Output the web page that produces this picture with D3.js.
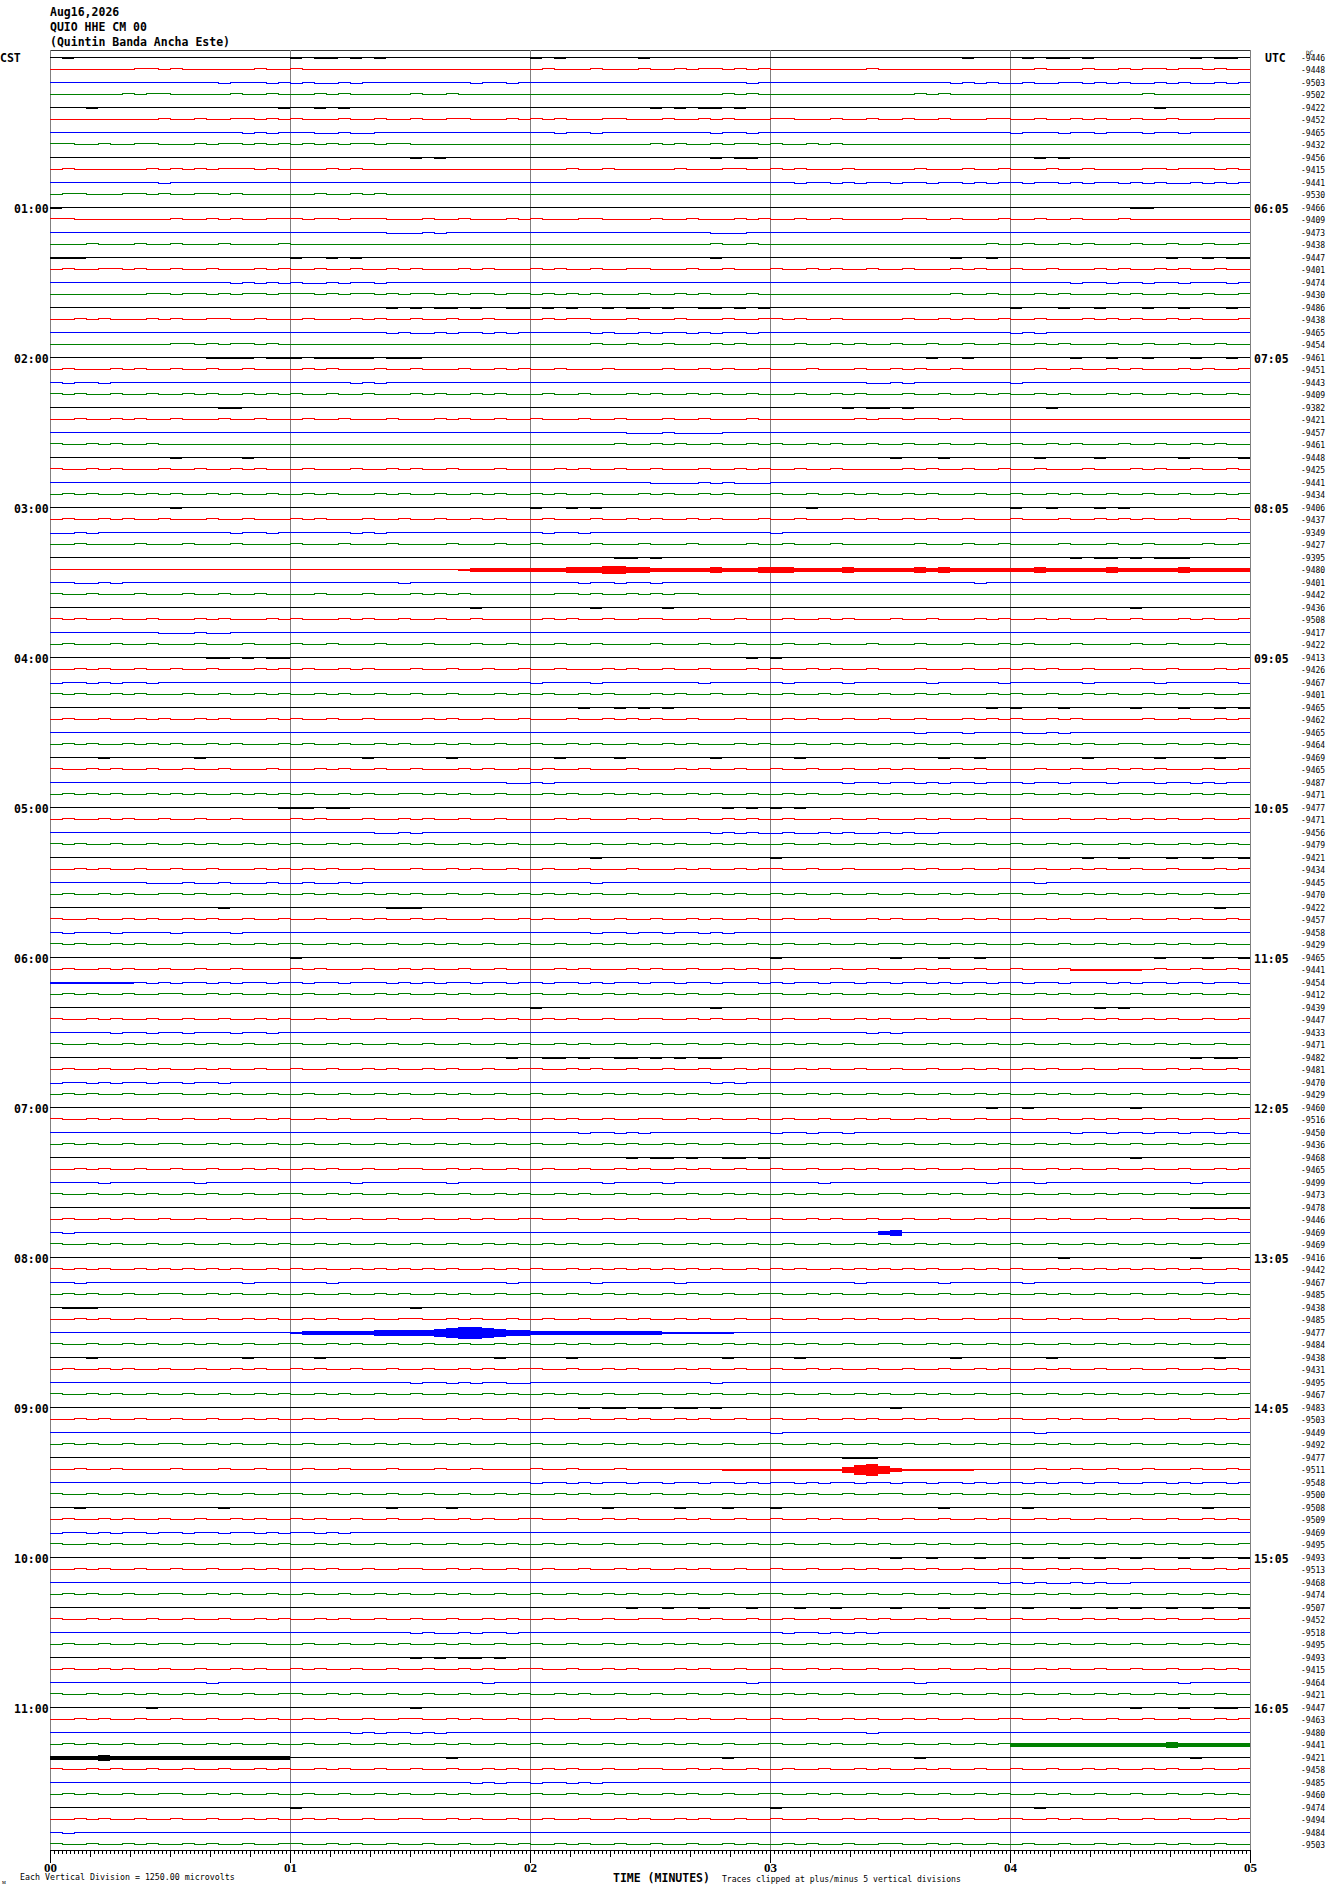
<!DOCTYPE html>
<html>
<head>
<meta charset="utf-8">
<script src="https://cdn.jsdelivr.net/npm/d3@7"></script>
<style>
  body { margin: 0; background: #fff; }
  svg { display: block; }
  text { font-family: "DejaVu Sans Mono", monospace; fill: #000; }
</style>
</head>
<body>
<div id="heli"></div>
<script>

var headerLines = ["Aug16,2026", "QUIO HHE CM 00", "(Quintin Banda Ancha Este)"];
var rowColors = ["#000000", "#ff0000", "#0000ff", "#008000"];
var leftHours = ["CST", "01:00", "02:00", "03:00", "04:00", "05:00", "06:00", "07:00", "08:00", "09:00", "10:00", "11:00"];
var rightHours = ["UTC", "06:05", "07:05", "08:05", "09:05", "10:05", "11:05", "12:05", "13:05", "14:05", "15:05", "16:05"];
var minuteLabels = ["00", "01", "02", "03", "04", "05"];

// DC offsets printed at the right of each line
var offsets = [
  -9446, -9448, -9503, -9502, -9422, -9452, -9465, -9432, -9456, -9415, -9441, -9530,
  -9466, -9409, -9473, -9438, -9447, -9401, -9474, -9430, -9486, -9438, -9465, -9454,
  -9461, -9451, -9443, -9409, -9382, -9421, -9457, -9461, -9448, -9425, -9441, -9434,
  -9406, -9437, -9349, -9427, -9395, -9480, -9401, -9442, -9436, -9508, -9417, -9422,
  -9413, -9426, -9467, -9401, -9465, -9462, -9465, -9464, -9469, -9465, -9487, -9471,
  -9477, -9471, -9456, -9479, -9421, -9434, -9445, -9470, -9422, -9457, -9458, -9429,
  -9465, -9441, -9454, -9412, -9439, -9447, -9433, -9471, -9482, -9481, -9470, -9429,
  -9460, -9516, -9450, -9436, -9468, -9465, -9499, -9473, -9478, -9446, -9469, -9469,
  -9416, -9442, -9467, -9485, -9438, -9485, -9477, -9484, -9438, -9431, -9495, -9467,
  -9483, -9503, -9449, -9492, -9477, -9511, -9548, -9500, -9508, -9509, -9469, -9495,
  -9493, -9513, -9468, -9474, -9507, -9452, -9518, -9495, -9493, -9415, -9464, -9421,
  -9447, -9463, -9480, -9441, -9421, -9458, -9485, -9460, -9474, -9494, -9484, -9503
];

// one character per 3 s bin: . flat, u step up, d step down, 1-6 noise half-amplitude (px)
var traces = [
  ".1........ .......... 1.11.1.1.. .......... 1.1......1 .......... .......... ......1... .1.11.1... .....1.11.",
  ".......uu. u......u.. u......... .......... .u...u...u ..u.uu.u.u ........u. .......... ..u...u..u .uu.uu.u..",
  ".......... ....d...d. d.dd.d.... .....d..d. .......... ........d. .......... .....d.d.d d.dd..d.d. dd.d.dd.d.",
  "......u.uu .....u..u. ..u.u..... u..u...... .......... ......u.u. .......... ..u.u..... .......... .u........",
  "...1...... .........1 ..1.1..... .......... .......... 1.1.11.1.. .......... .......... .......... ..1.......",
  ".........u ..u..uu.u. u...u..u.. u..uu...u. u.u...uu.. .u..u.u... uu...u..u. .u..u...uu ..u..u.u.. u..u...uuu",
  ".......... ......d.d. ..dd.dd... .......... ..d..d.... .....d..d. .......... .......... d...d..d.. .d..d.....",
  "uu..u..uu. ..u.uu.u.u .u.u.uu.uu .......... .......... u.u..u.uu. u..u.u.... .......... .......... ..........",
  ".......... .......... .......... 1.1....... .......... .....1.11. .......... .......... ..1.1..... ..........",
  ".u......u. u.u.uuu.u. ...u.u.... .......... ...u..u... ..u...uu.. u.u...u... ..u...u..u ...u..u... .uu.uuu.u.",
  ".........d .......... .......... .......... .......... .......... ..d..d.d.. d..d..d.d. .d..d.d..d .d.dd.d.d.",
  ".uu...uu.u ..uu.u.... ..u..u.u.. .......... .......... .......... .......... .......... .......... ..........",
  "1......... .......... .......... .......... .......... .......... .......... .......... .......... 11........",
  "uu........ u..u.u..uu u.uu.uuu.. .u..u...u. u...uu.... u..u...u.u ..u..u.... .uu..u...u ..u..u...u ..........",
  ".......... .......... ........dd d.d....... .......... .....ddd.. .......... .......... .......... ..........",
  "...u...u.. u...u....u .......... .......... .......... .....u..u. .......... ........u. .u..u.u... u..u..u..u",
  "111....... .......... 1..1.1.... .......... .......... .....1.... .......... .....1..1. .......... ...1..1.11",
  ".u..uu.u.. u..u...u.u ..u..u..u. u...u.u... u.u..u..uu ...u..u... u..u.u..u. .u...u.u.. u..u...u.u ..u.u..u..",
  ".......... .....d.d.d .dd.d..d.. .......... .......... .......... .......... .......... .....d..d. .d..d...d.",
  "........uu .uu.u.uu.u uu.u.uu.u. uu.u.uu.uu .u.u.u...u ..u.u...u. .......... .....u..u. ..u.u...u. u..u..u..u",
  ".......... .......... ........1. 1.11.1..11 .1.1..1.11 .1..11.1.1 .......... .......... 1...1..1.. .1..1...1.",
  "..u.u...u. u..uu..u.. .u...u.u.. u..u..u... .u.uu...u. ..u...u..u u.u..u.... .u..u.u..u ..u...u.u. u..u.u...u",
  ".......... .......... ........d. dd.d..d.d. .....d.dd. d..d.d..d. .......... .......... d.d....... ..........",
  ".......... uu.u.uu.u. .......... .......... .....u..u. .u...u.u.. ..u..u.u.. u..u..u..u ..u.u...u. .u..u..u..",
  ".......... ...1111.11 1.11111.11 1......... .......... .......... .......... ...1..1... .....1..1. .1...1..1.",
  ".u...u.u.. u..u..u... .u.u...u.. u...u..u.u ..u...u... .u..u.u..u ...u...u.. u.u..u.... ..u..u..u. u...u.u..u",
  ".d..d..... .......... .....d.d.. .......... .......... .......... ........dd .d........ d......... ..........",
  "u.u..u..u. .u.u..u.u. u..u..u... u.u..u.u.. .u..u...u. u..u.u..u. ..u..u.u.. .u..u..u.u ..u.u...u. u..u.u..u.",
  ".......... ....11.... .......... .......... .......... .......... ......1.11 .1........ ...1...... ..........",
  "..u..u.u.. u...u..u.. .u..u...u. ..u.u..u.. u...u..u.. .u..u...u. .......u.u u.uu.u.... .......... ..........",
  ".......... .......... .......... .......... ........dd d.dddd.... .......... .......... .......... ..........",
  "u..u.u..u. .......... .......... .......... .......u.. u.u..u..u. u..u.u..u. .u..u..u.. u..u.u...u ..u..u.u..",
  ".......... 1.....1... .......... .......... .......... .......... .......... 1...1..... ..1....1.. ....1....1",
  "u..u.u...u ..u..u.u.. .u...u..u. u..u...u.. ..u.u..u.. u...u..u.u ..u..u.... .u.u..u..u ..u...u... u.u..u..u.",
  ".......... .......... .......... .......... .......... dddd.d.ddd .......... .......... .......... ..........",
  ".u.u..u.u. u..u.u..u. .u.u...u.u ..u..u.u.. u.u..u...u .u..u.u... u..u..u.u. .u.u...u.. u..u.u..u. .u..u..u.u",
  ".......... 1......... .......... .......... 1..1.1.... .......... ...1...... .......... 1..1...1.1 ..........",
  ".u..u.u..u ...u..u... u.u...u..u ..u..u.u.. .u...u..u. u..u.u...u ..u...u.u. .u.u..u... u...u..u.u .u..u...u.",
  "dd.d...... .....d..d. .....d.d.. .......... .d..d..... .......... d......... .......... .......... ..........",
  "..u....u.. .u...u.... u...u...u. ...u...u.. u....u...u ...u....u. .u...u.... ..u...u..u ....u...u. .u....u..u",
  ".......... .......... .......... .......... .......11. 1......... .......... .......... .....1.11. 1.111.....",
  ".......... .......... .......... ....122222 2223334433 2222232223 3322223222 2232322222 2232222232 2222322222",
  "..dd.d.... .......... .........d .......... ....d..d.. d......... .......... .......d.. .......... ..........",
  "u..u...u.. .u..u..u.. ..u...u... u.u.u..... ..uu.u..u. u.uu...... .......... .......... .......... ..........",
  ".......... .......... .......... .....1.... .....1.... .1........ .......... .......... .......... 1.........",
  "u.u..u..u. ..u.u...u. u...u.u..u ..u..u.... .u.u..u..u u...u..u.. .u..u.u... u..u...u.u ..u.u..u.. u...u.u..u",
  ".........d dd.dd..... .......... .......... .......... .......... .......... .......... .......... ..........",
  ".u...u..u. ..u...u... u..u...u.. .u...u..u. ..u..u.... u...u..u.. .u..u...u. ..u...u..u .u...u.... u..u...u..",
  ".......... ...11.1.11 .......... .......... .......... ........1. 1......... .......... .......... ..........",
  "..u.u..u.. u..u...u.u .u..u.u... u..u..u..u ..u...u.u. .u..u...u. u..u.u..u. ..u...u..u .u.u..u... u..u...u.u",
  "d..d.d..d. .......... .......... .......... d....d.... ....d..... .d....d... ...d.....d ......d... ..d......d",
  "u.u..u.u.. .u..u..u.u ..u.u..u.. u..u...u.u .u..u.u... u.u..u..u. .u..u.u..u ..u.u...u. u..u..u.u. .u.u..u..u",
  ".......... .......... .......... .......... ....1..1.1 .1........ .......... ........1. 1...1..... 1...1..1.1",
  ".u..u..u.u ..u.u...u. u..u..u... .u.u..u..u ...u..u.u. u..u...u.. .u.u..u..u ..u...u.u. u..u.u.... .u..u..u.u",
  ".......... .......... .......... .......... .......... .......... .......... ..d...d... .dd.d..... ..........",
  ".u.u..u.u. u..u.u...u .u..u..u.u ..u.u..u.. u..u.u..u. .u.u...u.u ..u..u.u.. u.u..u...u .u..u.u..u u..u..u.u.",
  "....1..... ..1....... ......1... ...1...... ..1....1.. .....1.... ..1....... ....1..1.. ......1... ..1....1..",
  "u..u.u..u. .u..u...u. ..u.u..u.. u...u.u..u .u..u...u. ..u.u..u.. u..u..u..u .u...u.u.. ..u..u..u. u.u...u..u",
  ".......... .......... .......... ........dd .d........ .......... ......d..d ..d.d..d.. .d..d...d. ..d..d.d..",
  ".u.u.u..u. u.u..u.u.u .u..u.u..u u.u.u..u.. .u.u..u.u. u..u.u..u. .u.u..u.u. u..u.u.u.. .u..u.u..u u.u..u.u..",
  ".......... .........1 11.11..... .......... .......... ......1.1. 1.1....... .......... .......... ..........",
  ".u..u.u..u ..u..u.... u.u...u..u .u..u..u.. ..u.u...u. u..u..u.u. .u...u..u. ..u.u..u.. u...u..u.u .u.u..u..u",
  ".......... .......... .......dd. d......... .......... .....d.d.d d.dd.d.dd. d.dd...... .......... ..........",
  "u.u..u..u. .u.u..u.u. u..u.u...u .u..u.u.u. ..u..u..u. u.u..u.u.. .u..u..u.u ..u.u..u.. u..u.u...u .u..u.u.u.",
  ".......... .......... .......... .......... .....1.... .......... 1......... .......... ......1..1 ...1..1..1",
  "..u.u..u.. u..u...u.u .u.u..u... u..u.u..u. .u..u...u. ..u.u..u.u u..u..u... .u.u..u..u ..u..u.u.. u..u...u.u",
  "........dd d.dd.ddd.d d.dd.d.... .......... .....d.... .......... .......... .......... ..d....... ..........",
  ".u..u.u..u u.u..u..u. .u.u..u.u. u..u..u..u .u.u.u..u. ..u..u.u.. u.u..u..u. .u..u.u..u u..u..u.u. .u.u..u..u",
  ".......... ....1..... ........11 1......... .......... .......... .......... .......... .......... .......1..",
  "u..u..u.u. .u.u..u..u ..u..u.u.. u.u...u..u .u..u..u.. u..u.u..u. .u..u...u. u..u..u.u. ..u.u..u.. u..u.u..u.",
  ".d...d.... d....d.... .......... .......... .....d..d. .d..d.d... .......... .......... .......... ..........",
  "u.u..u.u.. .u..u..u.u u..u.u..u. .u.u..u..u ..u..u.u.. u..u.u..u. .u..u..u.u u.u..u.u.. .u..u..u.u ..u.u..u..",
  ".......... .......... 1......... .......... .......... .......... 1......... 1...1..1.. .......... ..1...1..1",
  ".u..u.u..u ..u..u.... u.u...u..u .u..u..u.. ..u.u...u. u..u..u.u. .u...u..u. ..u.u..u.. u...u11111 1.u..u..u.",
  "1111111.d. d..d.d..d. .d..d...d. d.d..d..d. .d..d.d..d ..d..d...d .d..d..d.. d..d.d..d. .d..d...d. d..d..d..d",
  ".u.u..u..u u..u.u..u. .u..u..u.u ..u.u..u.. u..u..u.u. .u.u..u..u u..u.u..u. .u..u..u.u ..u.u..u.. u..u.u..u.",
  ".......... .......... .......... .......... 1......... .....1.... .......... .......... .......1.1 ..........",
  "u..u.u..u. .u..u..u.u ..u.u..u.. u..u..u.u. .u.u..u..u u..u.u..u. .u..u..u.u ..u.u..u.. u..u..u.u. .u.u..u..u",
  ".....d..d. .d...d..d. .......... .......... .......... .......... ........d. d......... .......... ..........",
  "u..u..u.u. .u.u..u..u u..u.u..u. .u..u..u.u ..u.u..u.. u..u..u.u. .u.u..u..u u..u.u..u. .u..u..u.u ..u.u..u..",
  ".......... .......... .......... ........1. .11.1..11. 1.1.11.... .......... .......... .......... .....1.11.",
  ".u..u..u.u ..u.u..u.. u..u..u.u. .u.u..u..u u..u.u..u. .u..u..u.u ..u.u..u.. u..u..u.u. .u.u..u..u u..u.u..u.",
  "d..d.d..d. .d..d..... .......... .......... .......... .....d.d.. .......... .......... .......... ..........",
  ".u.u..u..u u..u.u..u. .u..u..u.u ..u.u..u.. u..u..u.u. .u.u..u..u u..u.u..u. .u..u..u.u ..u.u..u.. u..u..u.u.",
  ".......... .......... .......... .......... .......... .......... .......... ........1. .1........ 1.........",
  "u..u.u..u. .u..u..u.u ..u.u..u.. u..u..u.u. .u.u..u..u u..u.u..u. .u..u..u.u ..u.u..u.. u..u..u.u. .u.u..u..u",
  ".......... .......... .......... .......... ....d..d.d .......... d..d..d... .......... .....d..d. .d..d..d.d",
  ".u.u..u..u u..u.u..u. .u..u..u.u ..u.u..u.. u..u..u.u. .u.u..u..u u..u.u..u. .u..u..u.u ..u.u..u.. u..u..u.uu",
  ".......... .......... .......... .......... ........1. 11.1..11.1 .......... .......... .......... 1.........",
  "..u.u..u.. u..u..u.u. .u.u..u..u u..u.u..u. .u..u..u.u ..u.u..u.. u..u..u.u. .u.u..u..u u..u.u..u. .u..u..u.u",
  "....d..... ..d....... .....d.... ...d...... ......d... .d........ ....d..... ........d. ..d....... .....d....",
  "u..u..u.u. .u.u..u..u u..u.u..u. .u..u..u.u ..u.u..u.. u..u..u.u. .u.u..u..u u..u.u..u. .u..u..u.u u.uu.uu.uu",
  ".......... .......... .......... .......... .......... .......... .......... .......... .......... .....11111",
  ".u..u.u..u ..u..u.u.. u.u..u..u. .u..u.u..u u..u..u.u. ..u.u..u.. u..u.u..u. .u..u..u.u ..u.u..u.. u..u..u.u.",
  ".d........ .......... .......... .......... .......... .......... .........2 3......... .......... ..........",
  "u..u.u..u. .u..u..u.u ..u.u..u.. u..u..u.u. .u.u..u..u u..u.u..u. .u..u..u.u ..u.u..u.. u..u..u.u. .u.u..u..u",
  ".......... .......... .......... .......... .......... .......... .......... .......... ....1..... .....1....",
  "u.u.u..u.u .u.u.u..u. u.u..u.u.u .u.u..u.u. u..u.u.u.u .u.u.u..u. u.u..u.u.u .u.u..u.u. u..u.u.u.u .u.u.u..u.",
  "..d....... ......d... ...d...... ........d. .....d.... ..d....... .......d.. ....d..... .d........ ......d...",
  ".u.u..u..u u..u.u..u. .u..u..u.u ..u.u..u.. u..u..u.u. .u.u..u..u u..u.u..u. .u..u..u.u ..u.u..u.. u..u..u.u.",
  ".111...... .......... .......... 1......... .......... .......... .......... .......... .......... ..........",
  "..u.u..u.. u..u..u.u. .u.u..u..u u..u.u..u. .u..u..u.u ..u.u..u.. u..u..u.u. .u.u..u..u u..u.u..u. .u..u..u.u",
  ".......... .......... 1222222333 3345665433 2222222222 2111111... .......... .......... .......... ..........",
  "u..u..u.u. .u.u..u..u u..u.u..u. .u..u..u.u ..u.u..u.. u..u..u.u. .u.u..u..u u..u.u..u. .u..u..u.u ..u.u..u..",
  "...1...... ......1... ..1....... .......1.. ...1...... ......1... ..1....... .....1.... ...1...... .......1..",
  ".u..u.u..u ..u..u.u.. u.u..u..u. .u..u.u..u u..u..u.u. ..u.u..u.. u..u.u..u. .u..u..u.u ..u.u..u.. u..u..u.u.",
  ".......... .......... .......... d..d.d..dd .......... .....d.... .......... .......... .......... ..........",
  "u..u.u..u. .u..u..u.u ..u.u..u.. u..u..u.u. .u.u..u..u u..u.u..u. .u..u..u.u ..u.u..u.. u..u..u.u. .u.u..u..u",
  ".......... .......... .......... .......... ....1.11.1 1.11.1.... .......... 1......... .......... ..........",
  "..u.u..u.. u..u..u.u. .u.u..u..u u..u.u..u. .u..u..u.u ..u.u..u.. u..u..u.u. .u.u..u..u u..u.u..u. .u..u..u.u",
  ".......... .......... .......... .......... .......... .......... d......... .......... ..d....... ..........",
  ".u.u..u..u u..u.u..u. .u..u..u.u ..u.u..u.. u..u..u.u. .u.u..u..u u..u.u..u. .u..u..u.u ..u.u..u.. u..u..u.u.",
  ".......... .......... .......... .......... .......... .......... ......111. .......... .......... ..........",
  "..u..u.... u...u..u.. .u..u...u. ..u..u.... u..u...u.. ......1111 1111113564 2111111... ..u..u..u. .u...u..u.",
  ".......... .......... .......... .......... d..d.d..d. .d..d..d.d ..d.d..d.. d..d..d.d. .d.d..d..d d..d.d..d.",
  "u..u..u.u. .u.u..u..u u..u.u..u. .u..u..u.u ..u.u..u.. u..u..u.u. .u.u..u..u u..u.u..u. .u..u..u.u ..u.u..u..",
  "..1....... ....1..... ........1. ...1...... ......1... ..1...1... 1......... ....1..... .1........ ......1...",
  ".u..u.u..u ..u..u.u.. u.u..u..u. .u..u.u..u u..u..u.u. ..u.u..u.. u..u.u..u. .u..u..u.u ..u.u..u.. u..u..u.u.",
  "d..d.d..d. .d..d..d.d ..d.d..... .......... .......... .......... .......... .......... .......... ..........",
  "u..u.u..u. .u..u..u.u ..u.u..u.. u..u..u.u. .u.u..u..u u..u.u..u. .u..u..u.u ..u.u..u.. u..u..u.u. .u.u..u..u",
  ".......... .......... .......... .......... .......... .......... .......... 1..1...1.. .1..1..1.. 1...1.1..1",
  "..u.u..u.. u..u..u.u. .u.u..u..u u..u.u..u. .u..u..u.u ..u.u..u.. u..u..u.u. .u.u..u..u u..u.u..u. .u..u..u.u",
  ".......... .......... .......... .......... .......... .......... .......... .........d .d.dd.d.dd ..........",
  ".u.u..u..u u..u.u..u. .u..u..u.u ..u.u..u.. u..u..u.u. .u.u..u..u u..u.u..u. .u..u..u.u ..u.u..u.. u..u..u.u.",
  ".......... .......... .......... .......... ........1. .1..1...1. ..1..1.... 1...1..1.. .1...1..1. 1..1..1..1",
  "u..u.u..u. .u..u..u.u ..u.u..u.. u..u..u.u. .u.u..u..u u..u.u..u. .u..u..u.u ..u.u..u.. u..u..u.u. .u.u..u..u",
  ".......... .......... .......... d.dd.d..d. .......... .......... .d..d.d.d. .......... .......... ..........",
  ".u..u..u.u u.uu.uuu.. .u..u..u.u ..u.u..u.. u..u..u.u. .u.u..u..u u..u.u..u. .u..u..u.u ..u.u..u.. u..u..u.u.",
  ".......... .......... .......... 1.1.11.1.. .......... .......... .......... .......... .......... ..........",
  ".u..u.u..u ..u..u.u.. u.u..u..u. .u..u.u..u u..u..u.u. ..u.u..u.. u..u.u..u. .u..u..u.u ..u.u..u.. u..u..u.u.",
  ".......... ...d...... .......... ......d... .......... ........d. .......... ..d....... .......... ....d.....",
  "u..u..u.u. .u.u..u..u u..u.u..u. .u..u..u.u ..u.u..u.. u..u..u.u. .u.u..u..u u..u.u..u. .u..u..u.u ..u.u..u..",
  "........1. .......... .......... 1......... .......... .......... .......... .......... .......... 1...1..11.",
  "..u.u..u.. u..u..u.u. .u.u..u..u u..u.u..u. .u..u..u.u ..u.u..u.. u..u..u.u. .u.u..u..u u..u.u..u. .u..u..u.u",
  ".......... .......... .....d.d.. d.d....... .......... .......... ........d. .......... .......... ..........",
  ".u.u..u..u u..u.u..u. .u..u..u.u ..u.u..u.. u..u..u.u. .u.u..u..u u..u.u..u. .u..u..u.u 2222222222 2223222222",
  "2222322222 2222222222 .......... ...1...... .......... ......1... .......... ..1....... .......... .....1....",
  "u..u.u..u. .u..u..u.u ..u.u..u.. u..u..u.u. .u.u..u..u u..u.u..u. .u..u..u.u ..u.u..u.. u..u..u.u. .u.u..u..u",
  ".......... .......... .......... .....d.d.. d..d.d.... .......... .......... .......... .......... ..........",
  ".u.u..u..u u..u.u..u. .u..u..u.u ..u.u..u.. u..u..u.u. .u.u..u..u u..u.u..u. .u..u..u.u ..u.u..u.. u..u..u.u.",
  ".......... .......... 1......... .......... .......... .......... 1......... .......... ..1....... ..........",
  "..u.u..u.. u..u..u.u. .u.u..u..u u..u.u..u. .u..u..u.u ..u.u..u.. u..u..u.u. .u.u..u..u u..u.u..u. .u..u..u.u",
  ".d........ .......... .......... .......... .......... .......... .......... .......... .......... ..........",
  "u..u..u.u. .u.u..u..u u..u.u..u. .u..u..u.u ..u.u..u.. u..u..u.u. .u.u..u..u u..u.u..u. .u..u..u.u ..u.u..u.."
];

var W = 1330, H = 1894;
var plot = {left: 50, right: 1250, top: 50, bottom: 1850};
var binSec = 3, totalSec = 300, nBins = 100;
var stepOffset = {u: -1, d: 1};

var svg = d3.select("#heli")
  .append("svg")
    .attr("width", W)
    .attr("height", H);

var x = d3.scaleLinear().domain([0, totalSec]).range([plot.left, plot.right]);
var y = d3.scaleLinear().domain([0, traces.length - 1]).range([56.7, 1844.2]);

function rowY(i) { return Math.round(y(i)) + 0.5; }

// header
svg.append("g").selectAll("text")
  .data(headerLines)
  .enter().append("text")
    .attr("x", 50)
    .attr("y", function(d, i) { return 16 + i * 15; })
    .style("font-size", "11.5px")
    .style("font-weight", "bold")
    .text(function(d) { return d; });

// top frame
svg.append("line")
  .attr("x1", x(0)).attr("x2", x(totalSec))
  .attr("y1", plot.top + 0.5).attr("y2", plot.top + 0.5)
  .attr("stroke", "#333")
  .attr("shape-rendering", "crispEdges");

// minute grid
svg.append("g").selectAll("line")
  .data(minuteLabels)
  .enter().append("line")
    .attr("x1", function(d, i) { return Math.round(x(i * 60)) + 0.5; })
    .attr("x2", function(d, i) { return Math.round(x(i * 60)) + 0.5; })
    .attr("y1", plot.top)
    .attr("y2", plot.bottom)
    .attr("stroke", "#808080")
    .attr("shape-rendering", "crispEdges");

// traces
var line = d3.line().curve(d3.curveStepAfter);
var rows = svg.append("g").attr("id", "traces");

traces.forEach(function(str, i) {
  var s = str.replace(/ /g, "");
  var bins = [];
  for (var j = 0; j < nBins; j++) bins.push({t: j * binSec, c: s.charAt(j) || "."});
  var base = rowY(i);
  var col = rowColors[i % 4];

  var pts = bins.map(function(b) { return [x(b.t), base + (stepOffset[b.c] || 0)]; });
  pts.push([x(totalSec), pts[pts.length - 1][1]]);

  rows.append("path")
    .attr("d", line(pts))
    .attr("fill", "none")
    .attr("stroke", col)
    .attr("stroke-width", 1)
    .attr("shape-rendering", "crispEdges");

  var noisy = bins.filter(function(b) { return /[1-9]/.test(b.c); });
  rows.append("g").selectAll("rect")
    .data(noisy)
    .enter().append("rect")
      .attr("x", function(b) { return x(b.t); })
      .attr("width", function(b) { return x(b.t + binSec) - x(b.t); })
      .attr("y", function(b) { return base + 0.5 - (+b.c); })
      .attr("height", function(b) { return 2 * (+b.c); })
      .attr("fill", col)
      .attr("shape-rendering", "crispEdges");
});

// hour labels left / right
var hourG = svg.append("g");
hourG.selectAll("text.lh")
  .data(leftHours)
  .enter().append("text")
    .attr("class", "lh")
    .attr("x", function(d, i) { return i === 0 ? 0 : 14; })
    .attr("y", function(d, i) { return rowY(i * 12) + (i === 0 ? 4 : 5); })
    .style("font-size", "11.5px")
    .style("font-weight", "bold")
    .text(function(d) { return d; });

hourG.selectAll("text.rh")
  .data(rightHours)
  .enter().append("text")
    .attr("class", "rh")
    .attr("x", function(d, i) { return i === 0 ? 1265 : 1254; })
    .attr("y", function(d, i) { return rowY(i * 12) + (i === 0 ? 4 : 5); })
    .style("font-size", "11.5px")
    .style("font-weight", "bold")
    .text(function(d) { return d; });

// offsets
svg.append("g").selectAll("text")
  .data(offsets)
  .enter().append("text")
    .attr("x", 1301)
    .attr("y", function(d, i) { return rowY(i) + 3.5; })
    .style("font-size", "8px")
    .text(function(d) { return d; });

svg.append("text")
  .attr("x", 1306).attr("y", 55)
  .style("font-size", "6px")
  .text("DC");

// time axis
var axisG = svg.append("g").attr("transform", "translate(0," + plot.bottom + ")");
axisG.append("g")
  .call(d3.axisBottom(x).tickValues(d3.range(0, totalSec + 1, 1)).tickSize(4).tickSizeOuter(0).tickFormat(""));
axisG.append("g")
  .call(d3.axisBottom(x).tickValues(d3.range(0, totalSec + 1, 10)).tickSize(7).tickSizeOuter(0).tickFormat(""));
axisG.append("g")
  .attr("class", "minutes")
  .call(d3.axisBottom(x).tickValues(d3.range(0, totalSec + 1, 60)).tickSize(13).tickSizeOuter(0).tickPadding(0)
    .tickFormat(function(d) { return minuteLabels[d / 60]; }));
axisG.selectAll("line").attr("stroke", "#000").attr("shape-rendering", "crispEdges");
axisG.selectAll(".domain").attr("stroke", "#000").attr("shape-rendering", "crispEdges");
axisG.selectAll(".minutes text")
  .style("font-family", "'Liberation Serif', serif")
  .style("font-weight", "bold")
  .style("font-size", "13px")
  .attr("fill", "#000");

// footer
svg.append("text")
  .attr("x", 613).attr("y", 1882)
  .style("font-size", "11.5px").style("font-weight", "bold")
  .text("TIME (MINUTES)");
svg.append("text")
  .attr("x", 722).attr("y", 1882)
  .style("font-size", "8.1px")
  .text("Traces clipped at plus/minus 5 vertical divisions");
svg.append("text")
  .attr("x", 20).attr("y", 1880)
  .style("font-size", "8.3px")
  .text("Each Vertical Division = 1250.00 microvolts");
svg.append("text")
  .attr("x", 2).attr("y", 1884)
  .style("font-size", "6px")
  .text("ᴍ");
</script>
</body>
</html>
